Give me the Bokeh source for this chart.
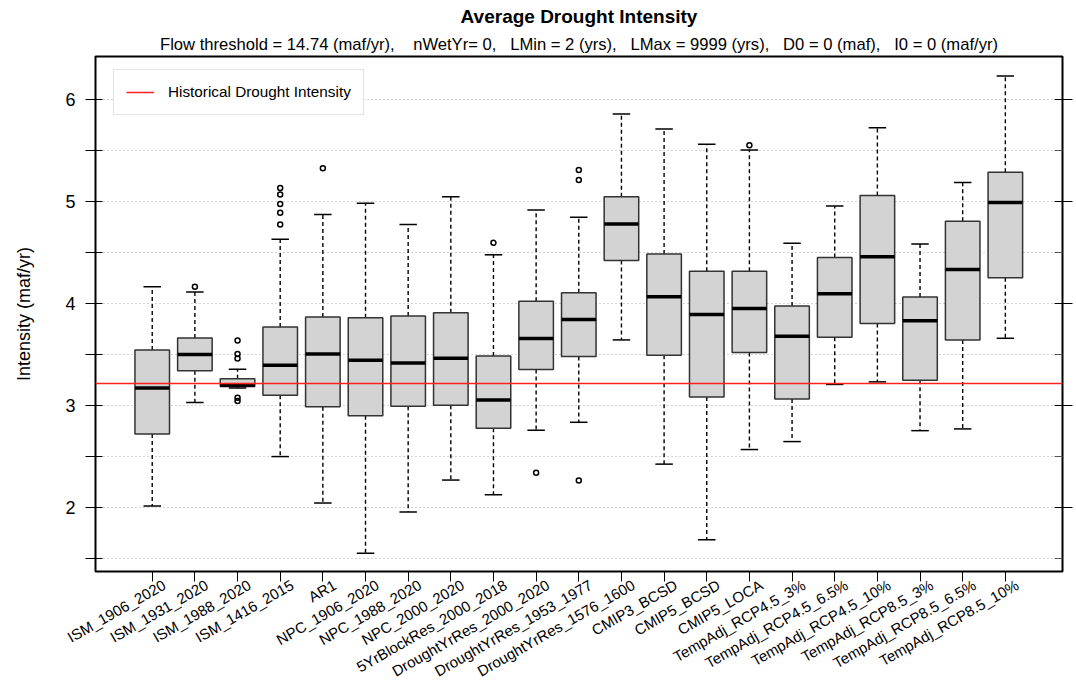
import re
from bokeh.plotting import figure
from bokeh.models import ColumnDataSource, FixedTicker, LinearAxis, Legend, LegendItem, Title, Range1d
from bokeh.embed import file_html
from bokeh.resources import INLINE

categories = ["ISM_1906_2020", "ISM_1931_2020", "ISM_1988_2020", "ISM_1416_2015", "AR1",
              "NPC_1906_2020", "NPC_1988_2020", "NPC_2000_2020", "5YrBlockRes_2000_2018",
              "DroughtYrRes_2000_2020", "DroughtYrRes_1953_1977", "DroughtYrRes_1576_1600",
              "CMIP3_BCSD", "CMIP5_BCSD", "CMIP5_LOCA", "TempAdj_RCP4.5_3%", "TempAdj_RCP4.5_6.5%",
              "TempAdj_RCP4.5_10%", "TempAdj_RCP8.5_3%", "TempAdj_RCP8.5_6.5%", "TempAdj_RCP8.5_10%"]

lower_whisker = [2.014, 3.029, 3.169, 2.498, 2.043, 1.551, 1.955, 2.268, 2.124, 2.756, 2.834,
                 3.641, 2.424, 1.682, 2.567, 2.645, 3.205, 3.230, 2.752, 2.769, 3.657]
q1 = [2.720, 3.338, 3.188, 3.098, 2.986, 2.898, 2.990, 3.000, 2.775, 3.352, 3.478,
      4.419, 3.491, 3.081, 3.518, 3.062, 3.667, 3.801, 3.247, 3.641, 4.250]
median = [3.169, 3.498, 3.195, 3.394, 3.504, 3.442, 3.416, 3.462, 3.052, 3.654, 3.840,
          4.777, 4.064, 3.889, 3.950, 3.677, 4.094, 4.455, 3.830, 4.331, 4.988]
q3 = [3.543, 3.660, 3.260, 3.768, 3.865, 3.859, 3.875, 3.908, 3.484, 4.019, 4.104,
      5.044, 4.484, 4.315, 4.315, 3.973, 4.448, 5.057, 4.061, 4.803, 5.285]
upper_whisker = [4.162, 4.110, 3.354, 4.627, 4.871, 4.979, 4.771, 5.044, 4.475, 4.914, 4.842,
                 5.855, 5.708, 5.559, 5.503, 4.588, 4.953, 5.721, 4.582, 5.184, 6.226]
outliers = [[], [4.162], [3.635, 3.504, 3.459, 3.074, 3.042],
            [5.129, 5.066, 4.973, 4.888, 4.771], [5.324], [], [], [], [4.592], [2.339],
            [5.305, 5.207, 2.264], [], [], [], [5.549], [], [], [], [], [], []]
historical_intensity = 3.211

title_text = "Average Drought Intensity"
subtitle_text = ("Flow threshold = 14.74 (maf/yr),    nWetYr= 0,   LMin = 2 (yrs),   "
                 "LMax = 9999 (yrs),   D0 = 0 (maf),   I0 = 0 (maf/yr)")
legend_text = "Historical Drought Intensity"
y_label = "Intensity (maf/yr)"
y_major = [2, 3, 4, 5, 6]
y_minor = [1.5, 2.5, 3.5, 4.5, 5.5]

FONT = "Liberation Sans"
pos = list(range(1, len(categories) + 1))
BOX_W = 0.81
CAP_W = 0.41
LABEL_SHIFT = 0.28  # rotated labels end slightly right of their tick, as in R's srt=30 text

# keep runs of spaces visible in SVG text
subtitle_shown = re.sub(r" {2,}", lambda m: " " + "\u00a0" * (len(m.group(0)) - 1), subtitle_text)

src = ColumnDataSource(dict(
    x=pos, q1=q1, q3=q3, med=median, lw=lower_whisker, uw=upper_whisker,
    bx0=[p_ - BOX_W / 2 for p_ in pos], bx1=[p_ + BOX_W / 2 for p_ in pos],
    cx0=[p_ - CAP_W / 2 for p_ in pos], cx1=[p_ + CAP_W / 2 for p_ in pos],
))
ox, oy = [], []
for p_, vals in zip(pos, outliers):
    for v in vals:
        ox.append(p_)
        oy.append(v)
out_src = ColumnDataSource(dict(x=ox, y=oy))

p = figure(width=1076, height=690, x_range=Range1d(-0.33, 22.34), y_range=Range1d(1.372, 6.418),
           output_backend="svg", toolbar_location=None, title=None,
           min_border_left=95, min_border_right=14, min_border_top=54, min_border_bottom=119)
p.background_fill_color = "white"
p.border_fill_color = "white"
p.outline_line_color = "black"
p.outline_line_width = 2

# titles
p.add_layout(Title(text=subtitle_shown, align="center", text_font=FONT, text_font_size="16.6px",
                   text_font_style="normal", text_color="black", standoff=6), "above")
p.add_layout(Title(text=title_text, align="center", text_font=FONT, text_font_size="19px",
                   text_font_style="bold", text_color="black", standoff=6), "above")

# grid
p.xgrid.visible = False
p.ygrid.ticker = FixedTicker(ticks=sorted(y_major + y_minor))
p.ygrid.grid_line_color = "#a8a8a8"
p.ygrid.grid_line_dash = "1 3"
p.ygrid.grid_line_width = 1

# left axis
ya = p.yaxis[0]
ya.ticker = FixedTicker(ticks=y_major, minor_ticks=y_minor)
ya.axis_line_color = None
ya.major_tick_out = 10
ya.major_tick_in = 7
ya.minor_tick_out = 10
ya.minor_tick_in = 7
ya.major_tick_line_color = "black"
ya.minor_tick_line_color = "black"
ya.major_label_text_font = FONT
ya.major_label_text_font_size = "18px"
ya.major_label_text_color = "black"
ya.major_label_standoff = 10
ya.axis_label = y_label
ya.axis_label_text_font = FONT
ya.axis_label_text_font_size = "18px"
ya.axis_label_text_font_style = "normal"
ya.axis_label_text_color = "black"
ya.axis_label_standoff = 28

# right axis (ticks only)
ra = LinearAxis(ticker=FixedTicker(ticks=y_major, minor_ticks=y_minor))
ra.axis_line_color = None
ra.major_tick_out = 10
ra.major_tick_in = 8
ra.minor_tick_out = 0
ra.minor_tick_in = 8
ra.major_tick_line_color = "black"
ra.minor_tick_line_color = "#555555"
ra.major_label_overrides = {v: "" for v in y_major}
ra.major_label_text_font_size = "0px"
ra.major_label_standoff = 0
p.add_layout(ra, "right")

# bottom axis: tick marks only
xa = p.xaxis[0]
xa.ticker = FixedTicker(ticks=pos)
xa.major_label_overrides = {i: "" for i in pos}
xa.major_label_text_font_size = "0px"
xa.major_label_standoff = 0
xa.axis_line_color = None
xa.major_tick_out = 10
xa.major_tick_in = 0
xa.minor_tick_line_color = None
xa.major_tick_line_color = "black"

# bottom labels, rotated 30 degrees
label_pos = [p_ + LABEL_SHIFT for p_ in pos]
xl = LinearAxis(ticker=FixedTicker(ticks=label_pos))
xl.major_label_overrides = {lp: c for lp, c in zip(label_pos, categories)}
xl.major_label_orientation = 0.52
xl.axis_line_color = None
xl.major_tick_line_color = None
xl.minor_tick_line_color = None
xl.major_tick_out = 0
xl.major_tick_in = 0
xl.major_label_text_font = FONT
xl.major_label_text_font_size = "15px"
xl.major_label_text_color = "black"
xl.major_label_standoff = 2
p.add_layout(xl, "below")

# whiskers
p.segment(x0="x", y0="q3", x1="x", y1="uw", source=src, line_color="black", line_width=1.4, line_dash="4 3")
p.segment(x0="x", y0="q1", x1="x", y1="lw", source=src, line_color="black", line_width=1.4, line_dash="4 3")
p.segment(x0="cx0", y0="uw", x1="cx1", y1="uw", source=src, line_color="black", line_width=1.5)
p.segment(x0="cx0", y0="lw", x1="cx1", y1="lw", source=src, line_color="black", line_width=1.5)
# boxes
p.vbar(x="x", width=BOX_W, top="q3", bottom="q1", source=src, fill_color="#d3d3d3",
       line_color="#333333", line_width=1.5)
p.segment(x0="bx0", y0="med", x1="bx1", y1="med", source=src, line_color="black", line_width=3.5)
# outliers
p.scatter(x="x", y="y", source=out_src, marker="circle", size=5, fill_color=None,
          line_color="black", line_width=1.5)

# historical line
hist_r = p.hspan(y=[historical_intensity], line_color="#ff2020", line_width=1.5)

legend = Legend(items=[LegendItem(label=legend_text, renderers=[hist_r])],
                location=(18, 456), orientation="vertical")
legend.label_text_font = FONT
legend.label_text_font_size = "15.3px"
legend.label_text_color = "black"
legend.border_line_color = "#c8c8c8"
legend.border_line_width = 1.5
legend.background_fill_alpha = 1.0
legend.padding = 12
legend.margin = 0
legend.glyph_width = 28
legend.label_standoff = 14
legend.label_height = 20
legend.glyph_height = 20
p.add_layout(legend, "center")

open("out.html", "w").write(file_html(p, INLINE))
